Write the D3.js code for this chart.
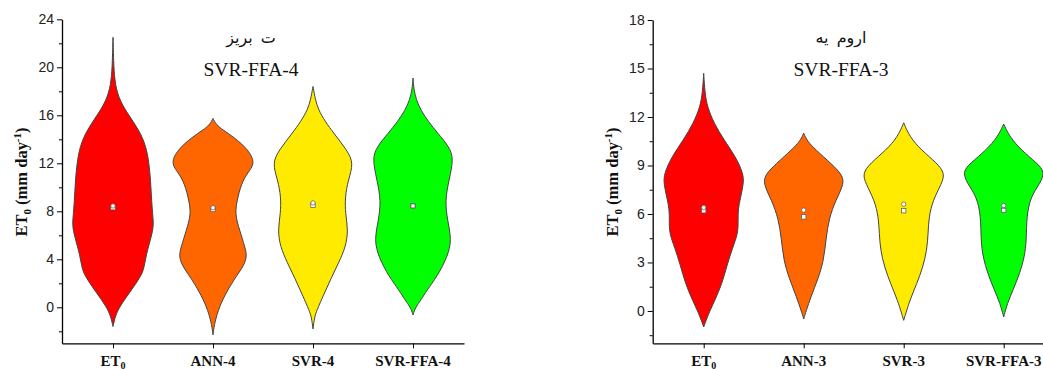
<!DOCTYPE html>
<html><head><meta charset="utf-8">
<script src="https://cdn.jsdelivr.net/npm/d3@7"></script>
<style>body{margin:0;background:#fff}svg{display:block}</style>
</head><body><svg id="c" width="1043" height="369"></svg>
<script>
// ---------- data ----------
const catsTabriz = ["ET0", "ANN-4", "SVR-4", "SVR-FFA-4"];
const catsUrmia = ["ET0", "ANN-3", "SVR-3", "SVR-FFA-3"];
const colors = ["#FF0000", "#FF6600", "#FFEB00", "#00FF00"];
const titleFaTabriz = "ت بریز";
const titleFaUrmia = "اروم یه";
const titleEnTabriz = "SVR-FFA-4";
const titleEnUrmia = "SVR-FFA-3";
const ticksTabriz = [0, 4, 8, 12, 16, 20, 24];
const minorTabriz = [-2, 2, 6, 10, 14, 18, 22];
const ticksUrmia = [0, 3, 6, 9, 12, 15, 18];
const minorUrmia = [-1.5, 1.5, 4.5, 7.5, 10.5, 13.5, 16.5];
// violin density profiles: [value, relative density]
const tabrizET0 = [[-1.6,0],[-0.7,.06],[0.1,.175],[1.2,.41],[2.3,.64],[2.9,.74],[3.4,.78],[4.3,.83],[5.1,.89],[6.4,1.0],[7.1,1.01],[7.8,.99],[9.2,.96],[10.6,.94],[12,.9],[13.4,.83],[14.8,.65],[16.2,.35],[17.5,.13],[18.9,.04],[20.5,.015],[22.5,0]];
const tabrizANN = [[-2.3,0],[-1.5,.03],[-0.3,.12],[1.0,.29],[2.4,.54],[3.5,.78],[4.3,.85],[5.0,.8],[6.4,.67],[7.8,.54],[9.2,.62],[10.6,.74],[11.44,.93],[12.0,1.02],[12.6,.97],[13.3,.82],[13.9,.62],[14.5,.38],[15.0,.15],[15.4,.05],[15.75,0]];
const tabrizSVR = [[-1.8,0],[-0.8,.04],[-0.3,.09],[1.0,.26],[2.4,.45],[3.7,.64],[5.05,.82],[6.44,.88],[7.8,.81],[9.2,.8],[10.6,.88],[12.0,1.02],[13.1,.85],[14.5,.52],[15.5,.3],[16.5,.13],[17.3,.06],[18.4,0]];
const tabrizFFA = [[-0.64,0],[0.0,.06],[0.6,.2],[1.44,.35],[2.55,.6],[4.2,.86],[5.6,.97],[7.28,.86],[8.9,.8],[10.6,.9],[12.4,1.02],[13.4,.9],[14.5,.62],[15.5,.38],[16.4,.2],[17.3,.08],[18.2,.02],[19.1,0]];
const urmiaET0 = [[-0.99,0],[-0.17,.12],[0.66,.28],[1.7,.46],[2.8,.58],[3.9,.72],[4.8,.86],[5.6,.86],[6.3,.86],[7.0,.92],[7.9,1.0],[8.5,.99],[9.54,.8],[10.57,.51],[11.6,.26],[12.63,.09],[13.5,.03],[14.7,0]];
const urmiaANN = [[-0.5,0],[0.0,.06],[0.87,.18],[2.0,.36],[3.1,.5],[4.5,.56],[5.7,.63],[6.85,.8],[7.9,1.02],[8.5,.95],[9.33,.59],[10.15,.22],[10.6,.07],[11.0,0]];
const urmiaSVR = [[-0.58,0],[0.66,.15],[1.7,.33],[2.72,.48],[3.76,.58],[4.79,.61],[5.82,.63],[6.85,.73],[7.89,.95],[8.5,1.03],[9.13,.84],[9.95,.44],[10.77,.15],[11.64,0]];
const urmiaFFA = [[-0.37,0],[0.46,.09],[1.28,.23],[2.31,.4],[3.34,.52],[4.38,.57],[5.82,.57],[7.06,.67],[7.89,.91],[8.6,1.03],[9.13,.84],[9.95,.44],[10.77,.15],[11.56,0]];
const meansTabriz = [8.45, 8.3, 8.7, 8.45];
const mediansTabriz = [8.3, 8.15, 8.5, 8.45];
const meansUrmia = [6.4, 6.24, 6.6, 6.53];
const mediansUrmia = [6.2, 5.82, 6.2, 6.22];

// ---------- drawing ----------
const svg = d3.select("#c");
const SERIF = "'Liberation Serif','Times New Roman',serif";
const SANS = "'Liberation Sans',Arial,sans-serif";

function panel(opt) {
  const g = svg.append("g");
  const y = d3.scaleLinear().domain(opt.domain).range([343.3, opt.top]);
  const x = d3.scalePoint().domain(opt.cats).range([opt.left, opt.left + 402]).padding(0.51);
  const w = d3.scaleLinear().domain([0, 1]).range([0, 40]);

  // violins
  opt.profiles.forEach((prof, i) => {
    const cx = x(opt.cats[i]);
    const area = d3.area()
      .y(d => y(d[0]))
      .x0(d => cx - w(d[1]))
      .x1(d => cx + w(d[1]))
      .curve(d3.curveBasis);
    g.append("path").attr("d", area(prof))
      .attr("fill", colors[i]).attr("stroke", "#444").attr("stroke-width", 1);
    // median (square) and mean (circle)
    g.append("rect").attr("x", cx - 2.2).attr("y", y(opt.medians[i]) - 2.2)
      .attr("width", 4.4).attr("height", 4.4)
      .attr("fill", "#fff").attr("stroke", "#555").attr("stroke-width", 0.7);
    g.append("circle").attr("cx", cx).attr("cy", y(opt.means[i])).attr("r", 2.2)
      .attr("fill", "#fff").attr("stroke", "#555").attr("stroke-width", 0.7);
  });

  // y axis
  const ya = g.append("g").attr("transform", `translate(${opt.left},0)`)
    .call(d3.axisLeft(y).tickValues(opt.ticks).tickSize(5).tickSizeOuter(0).tickPadding(3));
  ya.select(".domain").attr("stroke", "#000").attr("stroke-width", 1.3);
  ya.selectAll(".tick line").attr("stroke", "#000").attr("stroke-width", 1);
  ya.selectAll(".tick text").attr("font-family", SANS).attr("font-size", 14).attr("fill", "#222");
  const ym = g.append("g").attr("transform", `translate(${opt.left},0)`)
    .call(d3.axisLeft(y).tickValues(opt.minor).tickSize(3).tickFormat(""));
  ym.select(".domain").remove();
  ym.selectAll(".tick line").attr("stroke", "#000").attr("stroke-width", 1);

  // x axis
  const xa = g.append("g").attr("transform", "translate(0,343.3)")
    .call(d3.axisBottom(x).tickSize(5).tickSizeOuter(0).tickFormat(""));
  xa.select(".domain").attr("stroke", "#000").attr("stroke-width", 1.3);
  xa.selectAll(".tick line").attr("stroke", "#000").attr("stroke-width", 1);
  opt.cats.forEach(c => {
    const t = g.append("text").attr("x", x(c)).attr("y", 365.5)
      .attr("text-anchor", "middle").attr("font-family", SERIF)
      .attr("font-weight", "bold").attr("font-size", 15).attr("fill", "#111");
    if (c === "ET0") {
      t.append("tspan").text("ET");
      t.append("tspan").text("0").attr("font-size", 10).attr("dy", 3);
    } else t.text(c);
  });

  // y label
  const yl = g.append("text")
    .attr("transform", `translate(${opt.left - 35},182) rotate(-90)`)
    .attr("text-anchor", "middle").attr("font-family", SERIF)
    .attr("font-weight", "bold").attr("font-size", 16.5).attr("fill", "#111");
  yl.append("tspan").text("ET");
  yl.append("tspan").text("0").attr("font-size", 11).attr("dy", 4);
  yl.append("tspan").text(" (mm day").attr("dy", -4);
  yl.append("tspan").text("-1").attr("font-size", 11).attr("dy", -6);
  yl.append("tspan").text(")").attr("dy", 6);

  // titles
  g.append("text").attr("x", opt.titleX).attr("y", 43).attr("text-anchor", "middle")
    .attr("font-family", "'DejaVu Sans',sans-serif").attr("font-size", 16).attr("fill", "#111")
    .attr("direction", "rtl").attr("word-spacing", 3).text(opt.titleFa);
  g.append("text").attr("x", opt.titleX).attr("y", 76).attr("text-anchor", "middle")
    .attr("font-family", SERIF).attr("font-size", 19.5).attr("fill", "#111").text(opt.titleEn);
}

panel({
  left: 62, top: 19.3, domain: [-3, 24], cats: catsTabriz,
  profiles: [tabrizET0, tabrizANN, tabrizSVR, tabrizFFA],
  means: meansTabriz, medians: mediansTabriz,
  ticks: ticksTabriz, minor: minorTabriz,
  titleFa: titleFaTabriz, titleEn: titleEnTabriz, titleX: 251
});
panel({
  left: 652.7, top: 20, domain: [-2, 18], cats: catsUrmia,
  profiles: [urmiaET0, urmiaANN, urmiaSVR, urmiaFFA],
  means: meansUrmia, medians: mediansUrmia,
  ticks: ticksUrmia, minor: minorUrmia,
  titleFa: titleFaUrmia, titleEn: titleEnUrmia, titleX: 841
});
</script></body></html>
